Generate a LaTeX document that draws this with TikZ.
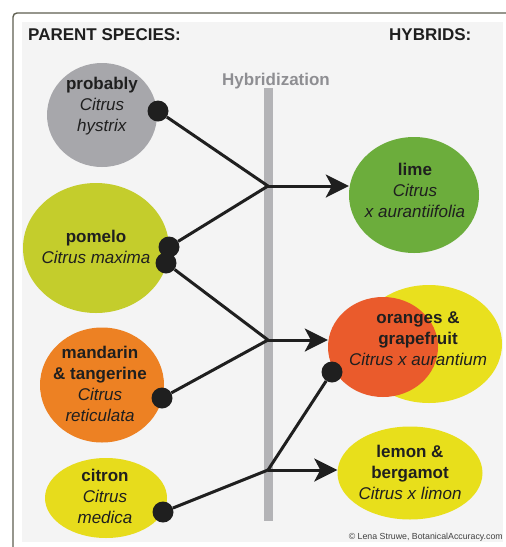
\documentclass[tikz,border=0pt]{standalone}
\usepackage{fontspec}
\setmainfont{Liberation Sans}
\usetikzlibrary{shapes.geometric,arrows.meta}
\definecolor{bgc}{HTML}{F4F4F4}
\definecolor{framec}{HTML}{5F5F50}
\definecolor{barc}{HTML}{B3B3B6}
\definecolor{hybtext}{HTML}{8E8E92}
\definecolor{textc}{HTML}{1F1F1F}
\definecolor{grayc}{HTML}{A7A7AB}
\definecolor{pomeloc}{HTML}{C4CD2C}
\definecolor{limec}{HTML}{6CAD3C}
\definecolor{mandc}{HTML}{ED8123}
\definecolor{citronc}{HTML}{E7DC1C}
\definecolor{redc}{HTML}{EA5B2C}
\definecolor{yellowc}{HTML}{E9E01E}
\definecolor{lemonc}{HTML}{E8DF1B}
\tikzset{
  blob/.style={ellipse, inner sep=0pt, draw=none},
  head/.style={font=\bfseries\fontsize{17}{21}\selectfont, text=textc, inner sep=0pt},
  lbl/.style={font=\fontsize{17}{21}\selectfont, text=textc, align=center, inner sep=0pt},
  dotnode/.style={circle, fill=textc, minimum size=21pt, inner sep=0pt},
  conn/.style={draw=textc, line width=3pt},
  arr/.style={draw=textc, line width=3pt, -{Stealth[length=23pt,width=23pt,inset=6pt]}}
}
\begin{document}
\begin{tikzpicture}[x=1pt,y=-1pt]
\useasboundingbox (0,0) rectangle (506,547);
\fill[white] (0,0) rectangle (506,547);
\fill[bgc] (22,22) rectangle (503,542);
\draw[framec, line width=1.4pt, rounded corners=4pt] (506,13) -- (13,13) -- (13,547);

% headings
\node[head, anchor=base west] (hpar) at (28,40) {PARENT SPECIES:};
\node[head, anchor=base west] (hhyb) at (389,40) {HYBRIDS:};
\node[head, text=hybtext, anchor=base west] (hhz) at (222,85) {Hybridization};

% bar
\fill[barc] (264,88) rectangle (273,521);

% parent shapes
\node[blob, fill=grayc, minimum width=110pt, minimum height=104pt] (hys) at (102,115) {};
\node[blob, fill=pomeloc, minimum width=146pt, minimum height=130pt] (pom) at (96,248) {};
\node[blob, fill=mandc, minimum width=124pt, minimum height=115pt] (man) at (102,385) {};
\node[blob, fill=citronc, minimum width=122pt, minimum height=80pt] (cit) at (106,498) {};

% hybrid shapes
\node[blob, fill=limec, minimum width=130pt, minimum height=116pt] (lime) at (414,195) {};
\node[blob, fill=yellowc, minimum width=146pt, minimum height=118pt] (ory) at (429,344) {};
\node[blob, fill=redc, minimum width=110pt, minimum height=100pt] (orr) at (383,347) {};
\node[blob, fill=lemonc, minimum width=145pt, minimum height=93pt] (lem) at (410,473) {};

% texts
\node[lbl] (thys) at (102,106) {\textbf{probably}\\\textit{Citrus}\\\textit{hystrix}};
\node[lbl] (tpom) at (96,247) {\textbf{pomelo}\\\textit{Citrus maxima}};
\node[lbl] (tman) at (100,384) {\textbf{mandarin}\\\textbf{\& tangerine}\\\textit{Citrus}\\\textit{reticulata}};
\node[lbl] (tcit) at (105,496) {\textbf{citron}\\\textit{Citrus}\\\textit{medica}};
\node[lbl] (tlime) at (415,190) {\textbf{lime}\\\textit{Citrus}\\\textit{x aurantiifolia}};
\node[lbl] (tor) at (418,339) {\textbf{oranges \&}\\\textbf{grapefruit}\\\textit{Citrus x aurantium}};
\node[lbl] (tlem) at (410,472) {\textbf{lemon \&}\\\textbf{bergamot}\\\textit{Citrus x limon}};

% junctions
\coordinate (j1) at (268,186);
\coordinate (j2) at (268,340);
\coordinate (j3) at (268,470);

% dots
\node[dotnode] (dhys) at (158,111) {};
\node[dotnode] (dpoma) at (169,247) {};
\node[dotnode] (dpomb) at (166,263) {};
\node[dotnode] (dman) at (162,398) {};
\node[dotnode] (dcit) at (163,512) {};
\node[dotnode] (dor) at (332,372) {};

% connectors
\draw[conn] (dhys) -- (j1);
\draw[conn] (dpoma) -- (j1);
\draw[conn] (dpomb) -- (j2);
\draw[conn] (dman) -- (j2);
\draw[conn] (dcit) -- (j3);
\draw[conn] (dor) -- (j3);
\draw[arr] (j1) -- (j1 -| lime.west);
\draw[arr] (j2) -- (j2 -| orr.west);
\draw[arr] (j3) -- (j3 -| lem.west);

% credit
\node[font=\fontsize{8.8}{10}\selectfont, text=textc!85, anchor=base east, inner sep=0pt] (credit) at (503,539) {© Lena Struwe, BotanicalAccuracy.com};
\end{tikzpicture}
\end{document}
